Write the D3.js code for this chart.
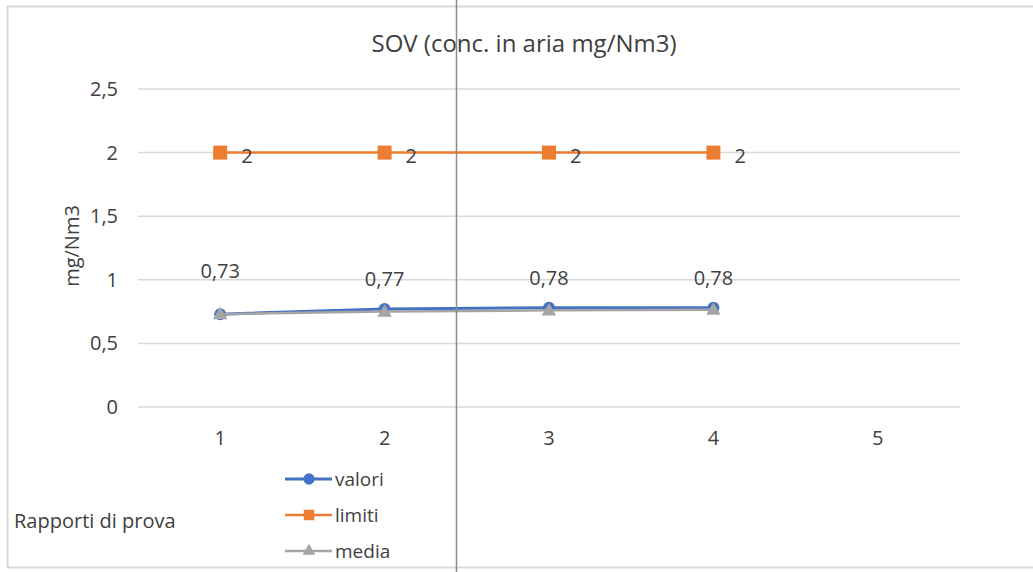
<!DOCTYPE html>
<html>
<head>
<meta charset="utf-8">
<script src="https://cdn.jsdelivr.net/npm/d3@7"></script>
<style>
  body { margin: 0; background: #fff; }
  text { font-family: "Open Sans", "Noto Sans", sans-serif; fill: #404040; }
</style>
</head>
<body>
<div id="viz"></div>
<script>
var width = 1033;
var height = 572;

// data
var categories = [1, 2, 3, 4, 5];
var valori = [0.73, 0.77, 0.78, 0.78];
var limiti = [2, 2, 2, 2];
var media = [0.73, 0.75, 0.76, 0.765];
var yTicks = [0, 0.5, 1, 1.5, 2, 2.5];

var fmt = function(v) { return String(v).replace(".", ","); };

var svg = d3.select("#viz")
  .append("svg")
  .attr("width", width)
  .attr("height", height);

// chart border
svg.append("rect")
  .attr("x", 7.5).attr("y", 6.5)
  .attr("width", 1040).attr("height", 561)
  .attr("fill", "none")
  .attr("stroke", "#d9d9d9")
  .attr("stroke-width", 2);

var x = d3.scaleBand()
  .domain(categories)
  .range([138, 960]);

var y = d3.scaleLinear()
  .domain([0, 2.5])
  .range([407, 89]);

var cx = function(i) { return x(categories[i]) + x.bandwidth() / 2; };

// gridlines
svg.append("g")
  .selectAll("line")
  .data(yTicks)
  .enter()
  .append("line")
  .attr("x1", 138).attr("x2", 960)
  .attr("y1", function(d) { return y(d); })
  .attr("y2", function(d) { return y(d); })
  .attr("stroke", "#d9d9d9")
  .attr("stroke-width", 1.5);

// y axis labels
var yAxis = svg.append("g")
  .attr("transform", "translate(128,0)")
  .call(d3.axisLeft(y).tickValues(yTicks).tickSize(0).tickPadding(10).tickFormat(fmt));
yAxis.select(".domain").remove();
yAxis.selectAll("text")
  .style("font-size", "20px")
  .style("font-family", "'Open Sans', sans-serif")
  .attr("fill", "#404040");

// x axis labels
var xAxis = svg.append("g")
  .attr("transform", "translate(0,431)")
  .call(d3.axisBottom(x).tickSize(0).tickPadding(0));
xAxis.select(".domain").remove();
xAxis.selectAll("text")
  .style("font-size", "20px")
  .style("font-family", "'Open Sans', sans-serif")
  .attr("fill", "#404040");

// title
svg.append("text")
  .attr("x", 524).attr("y", 52)
  .attr("text-anchor", "middle")
  .style("font-size", "24px")
  .text("SOV (conc. in aria mg/Nm3)");

// y title
svg.append("text")
  .attr("transform", "translate(79,246) rotate(-90)")
  .attr("text-anchor", "middle")
  .style("font-size", "20px")
  .text("mg/Nm3");

svg.append("text")
  .attr("x", 14).attr("y", 528)
  .style("font-size", "20px")
  .text("Rapporti di prova");

var line = d3.line()
  .x(function(d, i) { return cx(i); })
  .y(function(d) { return y(d); });

// limiti
svg.append("path")
  .datum(limiti)
  .attr("d", line)
  .attr("fill", "none")
  .attr("stroke", "#ed7d31")
  .attr("stroke-width", 2.5);
svg.append("g").selectAll("rect")
  .data(limiti).enter().append("rect")
  .attr("x", function(d, i) { return cx(i) - 7; })
  .attr("y", function(d) { return y(d) - 7; })
  .attr("width", 14).attr("height", 14)
  .attr("fill", "#ed7d31");
svg.append("g").selectAll("text")
  .data(limiti).enter().append("text")
  .attr("x", function(d, i) { return cx(i) + 21; })
  .attr("y", function(d) { return y(d) + 10; })
  .style("font-size", "20px")
  .attr("fill", "#262626")
  .text(fmt);

// valori
svg.append("path")
  .datum(valori)
  .attr("d", line)
  .attr("fill", "none")
  .attr("stroke", "#4472c4")
  .attr("stroke-width", 3);
svg.append("g").selectAll("circle")
  .data(valori).enter().append("circle")
  .attr("cx", function(d, i) { return cx(i); })
  .attr("cy", function(d) { return y(d); })
  .attr("r", 6)
  .attr("fill", "#4472c4");

// media
svg.append("path")
  .datum(media)
  .attr("d", line)
  .attr("fill", "none")
  .attr("stroke", "#a5a5a5")
  .attr("stroke-width", 2.5);
var tri = d3.symbol().type(d3.symbolTriangle).size(90);
svg.append("g").selectAll("path")
  .data(media).enter().append("path")
  .attr("d", tri)
  .attr("transform", function(d, i) { return "translate(" + cx(i) + "," + (y(d) + 1) + ")"; })
  .attr("fill", "#a5a5a5");

// data labels for valori
svg.append("g").selectAll("text")
  .data(valori).enter().append("text")
  .attr("x", function(d, i) { return cx(i); })
  .attr("y", function(d, i) { return i === 0 ? y(d) - 36 : y(d) - 23; })
  .attr("text-anchor", "middle")
  .style("font-size", "20px")
  .attr("fill", "#262626")
  .text(fmt);

// legend
var legendItems = [
  { name: "valori", color: "#4472c4", shape: "circle" },
  { name: "limiti", color: "#ed7d31", shape: "square" },
  { name: "media", color: "#a5a5a5", shape: "triangle" }
];
var legend = svg.append("g")
  .selectAll("g")
  .data(legendItems)
  .enter()
  .append("g")
  .attr("transform", function(d, i) { return "translate(285," + (479 + i * 36) + ")"; });
legend.append("line")
  .attr("x1", 0).attr("x2", 47)
  .attr("stroke", function(d) { return d.color; })
  .attr("stroke-width", function(d) { return d.shape === "circle" ? 3 : 2.5; });
legend.append("path")
  .attr("d", function(d) {
    if (d.shape === "circle") return d3.symbol().type(d3.symbolCircle).size(100)();
    if (d.shape === "square") return d3.symbol().type(d3.symbolSquare).size(110)();
    return d3.symbol().type(d3.symbolTriangle).size(70)();
  })
  .attr("transform", "translate(24,0)")
  .attr("fill", function(d) { return d.color; });
legend.append("text")
  .attr("x", 50).attr("y", 7)
  .style("font-size", "19px")
  .text(function(d) { return d.name; });

// vertical separator line
svg.append("line")
  .attr("x1", 456.5).attr("x2", 456.5)
  .attr("y1", 0).attr("y2", height)
  .attr("stroke", "#8c8c8c")
  .attr("stroke-width", 1.5);
</script>
</body>
</html>
